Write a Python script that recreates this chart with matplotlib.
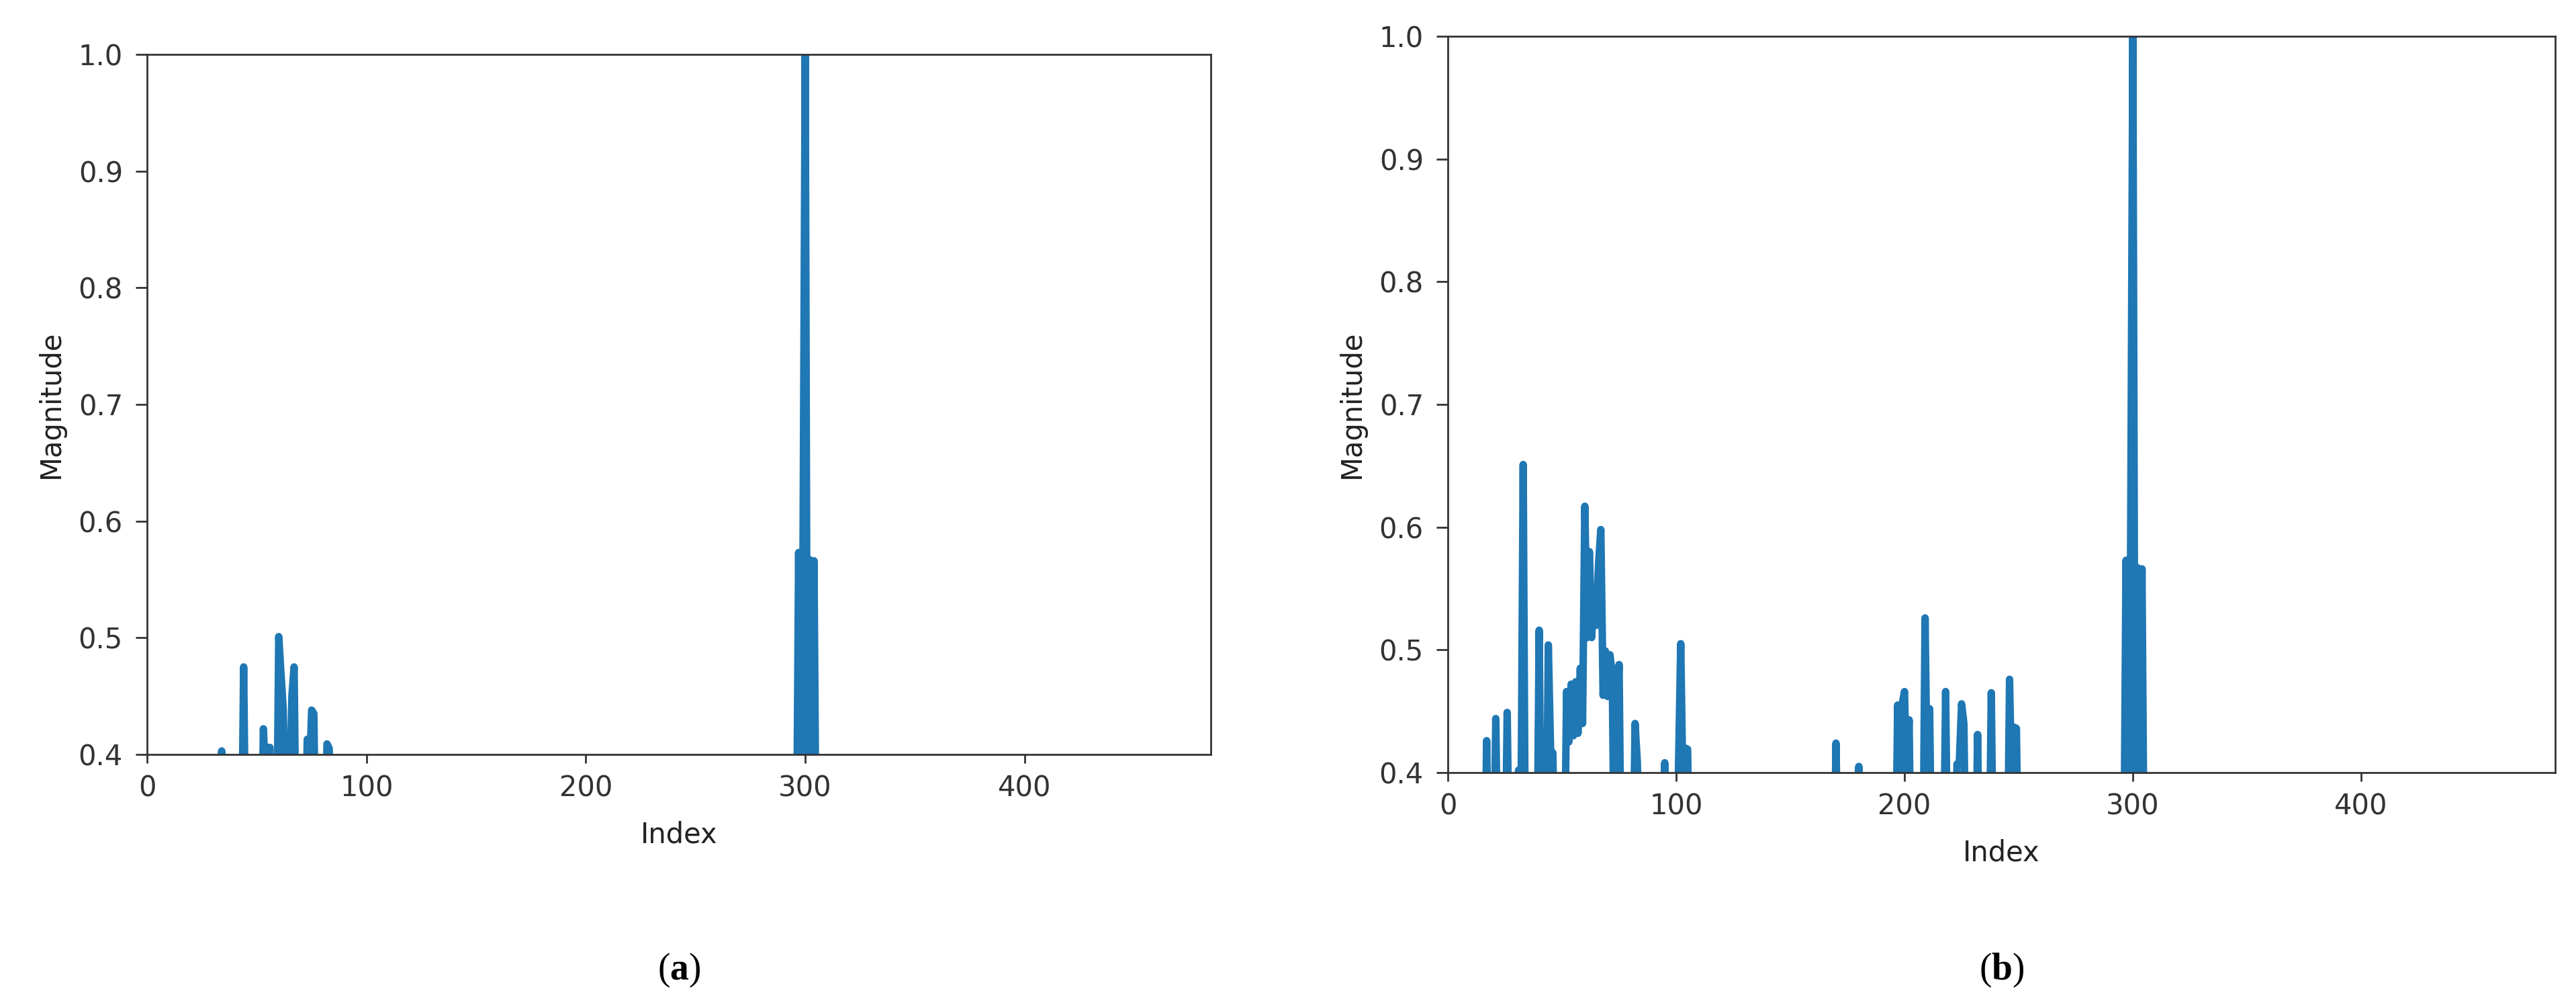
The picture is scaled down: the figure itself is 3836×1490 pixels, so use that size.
import matplotlib
matplotlib.use('Agg')
import matplotlib.pyplot as plt

# values (points below 0.4 fall under the axis)
idx_a = [33, 34, 35,
         43, 44, 45,
         52, 53, 54, 55, 56, 57,
         59, 60, 61, 62, 63, 64, 65, 66, 67, 68,
         72, 73, 74, 75, 76, 77,
         81, 82, 83, 84,
         296, 297, 298, 299, 300, 301, 302, 303, 304, 305]
mag_a = [0.35, 0.403, 0.35,
         0.3, 0.475, 0.3,
         0.3, 0.422, 0.38, 0.406, 0.406, 0.3,
         0.3, 0.501, 0.47, 0.44, 0.36, 0.417, 0.36, 0.45, 0.475, 0.3,
         0.3, 0.413, 0.38, 0.438, 0.435, 0.3,
         0.3, 0.409, 0.405, 0.3,
         0.3, 0.573, 0.35, 0.572, 1.0, 0.35, 0.567, 0.35, 0.566, 0.3]

idx_b = [16, 17, 18,
         20, 21, 22,
         25, 26, 27,
         30, 31, 32, 33, 34,
         39, 40, 41,
         43, 44, 45, 46, 47,
         51, 52, 53, 54, 55, 56, 57, 58, 59, 60, 61, 62, 63, 64, 65, 66,
         67, 68, 69, 70, 71, 72, 73, 74, 75, 76,
         81, 82, 83, 84,
         94, 95, 96,
         100, 101, 102, 103, 104, 105, 106,
         169, 170, 171,
         179, 180, 181,
         196, 197, 198, 199, 200, 201, 202, 203,
         208, 209, 210, 211, 212,
         217, 218, 219,
         222, 223, 224, 225, 226, 227,
         231, 232, 233,
         237, 238, 239,
         245, 246, 247, 248, 249, 250,
         296, 297, 298, 299, 300, 301, 302, 303, 304, 305]
mag_b = [0.3, 0.426, 0.3,
         0.3, 0.444, 0.3,
         0.3, 0.449, 0.3,
         0.35, 0.402, 0.35, 0.651, 0.3,
         0.3, 0.516, 0.3,
         0.3, 0.504, 0.418, 0.416, 0.3,
         0.3, 0.466, 0.425, 0.472, 0.43, 0.474, 0.432, 0.485, 0.44, 0.617, 0.51, 0.58, 0.51, 0.549, 0.52, 0.57,
         0.598, 0.463, 0.499, 0.462, 0.496, 0.48, 0.3, 0.45, 0.488, 0.3,
         0.3, 0.44, 0.408, 0.3,
         0.3, 0.408, 0.3,
         0.35, 0.402, 0.505, 0.38, 0.42, 0.419, 0.3,
         0.3, 0.424, 0.3,
         0.3, 0.405, 0.3,
         0.3, 0.455, 0.38, 0.456, 0.466, 0.38, 0.443, 0.3,
         0.3, 0.526, 0.38, 0.452, 0.3,
         0.3, 0.466, 0.3,
         0.3, 0.407, 0.408, 0.456, 0.44, 0.3,
         0.3, 0.431, 0.3,
         0.3, 0.465, 0.3,
         0.3, 0.476, 0.38, 0.437, 0.436, 0.3,
         0.3, 0.573, 0.35, 0.572, 1.0, 0.35, 0.567, 0.35, 0.566, 0.3]

y_ticks = [0.4, 0.5, 0.6, 0.7, 0.8, 0.9, 1.0]
x_ticks = [0, 100, 200, 300, 400]
panel_tags = ['a', 'b']

plt.rcParams['mathtext.fontset'] = 'custom'
plt.rcParams['mathtext.rm'] = 'Liberation Serif'
plt.rcParams['mathtext.bf'] = 'Liberation Serif:bold'

fig = plt.figure(figsize=(38.37, 14.90), dpi=100)
ax_a = fig.add_axes([0.0571, 0.2463, 0.4129, 0.6993])
ax_b = fig.add_axes([0.5619, 0.2282, 0.4298, 0.7356])

for ax, xs, ys, tag in zip([ax_a, ax_b], [idx_a, idx_b], [mag_a, mag_b], panel_tags):
    ax.plot(xs, ys, color='#1f77b4', linewidth=8)
    ax.set_xlim(0, 485)
    ax.set_ylim(0.4, 1.0)
    ax.set_xticks(x_ticks)
    ax.set_yticks(y_ticks)
    ax.set_yticklabels(['%.1f' % v for v in y_ticks])
    ax.tick_params(axis='y', length=12, width=2, pad=14, labelsize=30, colors='#333333')
    ax.tick_params(axis='x', length=9, width=2, pad=12, labelsize=30, colors='#333333')
    for s in ax.spines.values():
        s.set_linewidth(2)
        s.set_color('#333333')
    ax.set_xlabel('Index', fontsize=30, labelpad=20, color='#222222')
    ax.set_ylabel('Magnitude', fontsize=30, labelpad=14, color='#222222')
    # panel caption under each plot
    cx = (ax.get_position().x0 + ax.get_position().x1) / 2
    fig.text(cx, 0.031, '(' + r'$\mathbf{' + tag + '}$' + ')',
             ha='center', va='center', fontsize=40, family='Liberation Serif')

fig.savefig('out.png', dpi=100, facecolor='white')
